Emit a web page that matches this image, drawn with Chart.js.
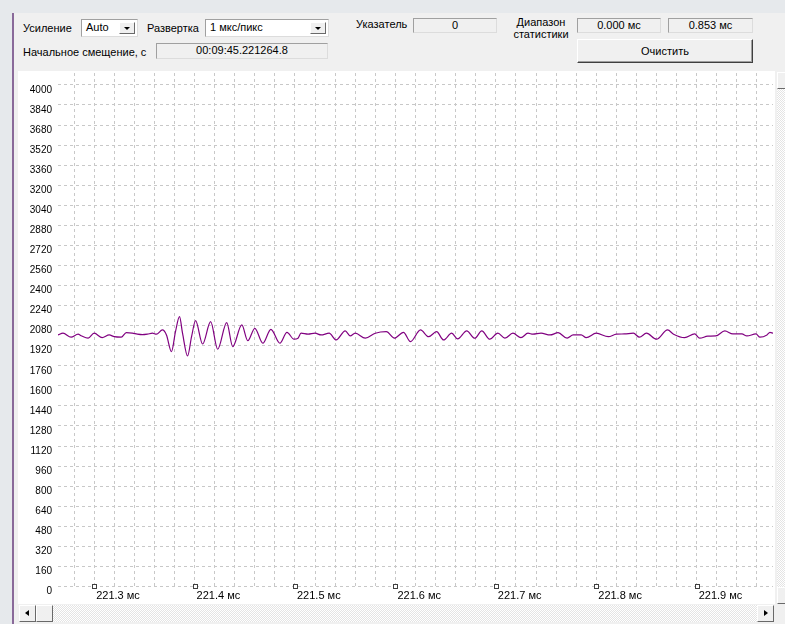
<!DOCTYPE html>
<html>
<head>
<meta charset="utf-8">
<script src="https://cdn.jsdelivr.net/npm/chart.js@4/dist/chart.umd.min.js"></script>
<style>
    body { margin: 0; width: 785px; height: 624px; overflow: hidden; background: #e6e9ec; font: 11px "Liberation Sans", Arial, sans-serif; color: #000; position: relative; }
    .abs { position: absolute; }
    #panel { left: 14px; top: 13px; width: 771px; height: 611px; background: #f0f0f0; }
    #edge { left: 12px; top: 13px; width: 2px; height: 611px; background: #8a6a9a; }
    .lbl { position: absolute; white-space: nowrap; line-height: 13px; }
    .combo { position: absolute; background: #fff; border: 1px solid; border-color: #a0a0a0 #dcdcdc #dcdcdc #a0a0a0; box-sizing: border-box; line-height: 15px; padding-left: 4px; }
    .drop { position: absolute; top: 2px; right: 2px; width: 16px; height: 12px; background: #f0f0f0; border: 1px solid; border-color: #fff #696969 #696969 #fff; box-sizing: border-box; }
    .drop:after { content: ""; position: absolute; left: 4px; top: 4px; border-left: 3px solid transparent; border-right: 3px solid transparent; border-top: 3px solid #000; }
    .box { position: absolute; background: #f0f0f0; border: 1px solid; border-color: #a0a0a0 #dcdcdc #dcdcdc #a0a0a0; box-sizing: border-box; text-align: center; line-height: 13px; }
    .btn { position: absolute; background: #f0f0f0; border: 1px solid; border-color: #fff #404040 #404040 #fff; box-shadow: inset -1px -1px 0 #a0a0a0; box-sizing: border-box; text-align: center; }
    #plot { left: 18px; top: 71px; width: 757px; height: 533px; background: #fff; }
    .track { position: absolute; background-color: #fff; background-image: conic-gradient(#e4e4e4 25%, #fff 0 50%, #e4e4e4 0 75%, #fff 0); background-size: 2px 2px; }
    .sbtn { position: absolute; width: 17px; height: 17px; background: #f0f0f0; border: 1px solid; border-color: #fff #696969 #696969 #fff; box-sizing: border-box; }
</style>
</head>
<body>
<div id="panel" class="abs"></div>
<div id="edge" class="abs"></div>

<div class="lbl" style="left:23px;top:22px">Усиление</div>
<div class="combo" style="left:81px;top:19px;width:57px;height:18px">Auto<div class="drop"></div></div>
<div class="lbl" style="left:147px;top:22px">Развертка</div>
<div class="combo" style="left:205px;top:19px;width:124px;height:18px">1 мкс/пикс<div class="drop"></div></div>
<div class="lbl" style="left:23px;top:46px">Начальное смещение, с</div>
<div class="box" style="left:156px;top:43px;width:172px;height:16px">00:09:45.221264.8</div>

<div class="lbl" style="left:356px;top:18px">Указатель</div>
<div class="box" style="left:413px;top:18px;width:84px;height:15px">0</div>
<div class="lbl" style="left:506px;top:16px;width:70px;text-align:center;line-height:12px;white-space:normal">Диапазон статистики</div>
<div class="box" style="left:577px;top:18px;width:84px;height:15px">0.000 мс</div>
<div class="box" style="left:668px;top:18px;width:85px;height:15px">0.853 мс</div>
<div class="btn" style="left:577px;top:39px;width:176px;height:24px;line-height:22px">Очистить</div>

<div id="plot" class="abs"><canvas id="signal_chart" width="757" height="533"></canvas></div>

<div class="track" style="left:777px;top:72px;width:17px;height:531px"></div>
<div class="sbtn" style="left:777px;top:72px"></div>
<div class="sbtn" style="left:777px;top:587px"></div>

<div class="track" style="left:19px;top:605px;width:755px;height:17px"></div>
<div class="sbtn" style="left:19px;top:605px"><div style="position:absolute;left:5px;top:4px;border-top:3.5px solid transparent;border-bottom:3.5px solid transparent;border-right:4px solid #000"></div></div>
<div class="sbtn" style="left:36px;top:605px"></div>
<div class="sbtn" style="left:757px;top:605px"><div style="position:absolute;left:6px;top:4px;border-top:3.5px solid transparent;border-bottom:3.5px solid transparent;border-left:4px solid #000"></div></div>

<script>
// time in microseconds, ADC counts
const sampleTimes = [
    221264, 221269, 221277, 221284, 221287, 221294, 221300, 221308, 221315, 221320,
    221327, 221332, 221338, 221343, 221348, 221353, 221358, 221362, 221368, 221372,
    221377, 221381, 221385, 221388, 221393, 221397, 221401, 221408, 221416, 221423,
    221432, 221438, 221447, 221453, 221460, 221468, 221476, 221485, 221492, 221499,
    221503, 221506, 221513, 221520, 221526, 221534, 221541, 221550, 221555, 221560,
    221570, 221580, 221591, 221599, 221608, 221615, 221625, 221633, 221641, 221648,
    221656, 221662, 221671, 221679, 221686, 221694, 221702, 221709, 221717, 221725,
    221732, 221737, 221745, 221754, 221762, 221771, 221777, 221785, 221790, 221800,
    221812, 221820, 221828, 221837, 221843, 221850, 221860, 221871, 221877, 221888,
    221898, 221903, 221911, 221919, 221928, 221936, 221945, 221950, 221959, 221963,
    221970, 221973, 221976
];
const sampleValues = [
    2006, 2020, 1988, 2012, 2000, 1980, 2020, 1984, 2006, 1992,
    1988, 2024, 2020, 2012, 2008, 2012, 2020, 2012, 2046, 2006,
    1873, 2032, 2152, 2020, 1838, 1992, 2120, 1934, 2112, 1892,
    2104, 1913, 2086, 1960, 2059, 1940, 2051, 1940, 2027, 1972,
    1980, 2020, 2012, 2020, 2006, 2020, 1966, 2038, 1998, 2020,
    1980, 2020, 2032, 1980, 2027, 1953, 2046, 1992, 2032, 1966,
    2020, 1974, 2038, 1980, 2038, 1972, 2020, 1980, 2020, 1984,
    2020, 2012, 2020, 2006, 2024, 1980, 2006, 2006, 1984, 2020,
    1992, 2012, 2014, 2020, 1988, 2020, 1972, 2046, 2012, 1984,
    2014, 1980, 1996, 1998, 2038, 2014, 2014, 1998, 2014, 1988,
    2006, 2027, 2020
];
const xLabelTicks = [221300, 221400, 221500, 221600, 221700, 221800, 221900];
const xMin = 221264, xMax = 221976, xGridStep = 20;
const yMin = 0, yMax = 4095, yStep = 160;

const tickMarks = {
    id: 'tickMarks',
    afterDraw(chart) {
        const ctx = chart.ctx;
        const xs = chart.scales.x;
        const py = Math.round(chart.chartArea.bottom);
        ctx.save();
        ctx.lineWidth = 1;
        ctx.strokeStyle = '#404040';
        ctx.fillStyle = '#fff';
        xLabelTicks.forEach(v => {
            const px = Math.round(xs.getPixelForValue(v));
            ctx.fillRect(px - 1, py - 2, 3, 3);
            ctx.strokeRect(px - 1.5, py - 2.5, 4, 4);
        });
        ctx.restore();
    }
};

Chart.defaults.font.family = '"Liberation Sans", Arial, sans-serif';

const signalChart = new Chart(document.getElementById('signal_chart'), {
    type: 'line',
    data: {
        datasets: [{
            data: sampleTimes.map((t, i) => ({ x: t, y: sampleValues[i] })),
            borderColor: '#800080',
            borderWidth: 1.2,
            pointRadius: 0,
            fill: false,
            cubicInterpolationMode: 'monotone'
        }]
    },
    options: {
        responsive: false,
        animation: false,
        devicePixelRatio: 1,
        layout: { padding: { top: 2, right: 2, left: 0, bottom: 0 } },
        plugins: { legend: { display: false }, tooltip: { enabled: false } },
        scales: {
            x: {
                type: 'linear',
                min: xMin,
                max: xMax,
                grid: { color: '#c8c8c8', drawTicks: false },
                border: { display: false, dash: [3, 3] },
                ticks: {
                    stepSize: xGridStep,
                    maxTicksLimit: 1000,
                    includeBounds: false,
                    autoSkip: false,
                    maxRotation: 0,
                    minRotation: 0,
                    align: 'start',
                    labelOffset: 2,
                    padding: 3,
                    color: '#000',
                    font: { size: 11 },
                    callback: v => xLabelTicks.includes(v) ? (v / 1000).toFixed(1) + ' мс' : ''
                },
                afterFit: scale => {
                    scale.height = 17.5;
                    scale.paddingLeft = 0;
                    scale.paddingRight = 0;
                }
            },
            y: {
                min: yMin,
                max: yMax,
                grid: { color: '#c8c8c8', drawTicks: false },
                border: { display: false, dash: [3, 3] },
                ticks: {
                    stepSize: yStep,
                    maxTicksLimit: 1000,
                    includeBounds: false,
                    padding: 6,
                    labelOffset: 5,
                    color: '#000',
                    font: { size: 10 },
                    callback: v => String(v)
                },
                afterFit: scale => {
                    scale.width = 40;
                    scale.paddingTop = 0;
                    scale.paddingBottom = 0;
                }
            }
        }
    },
    plugins: [tickMarks]
});
</script>
</body>
</html>
